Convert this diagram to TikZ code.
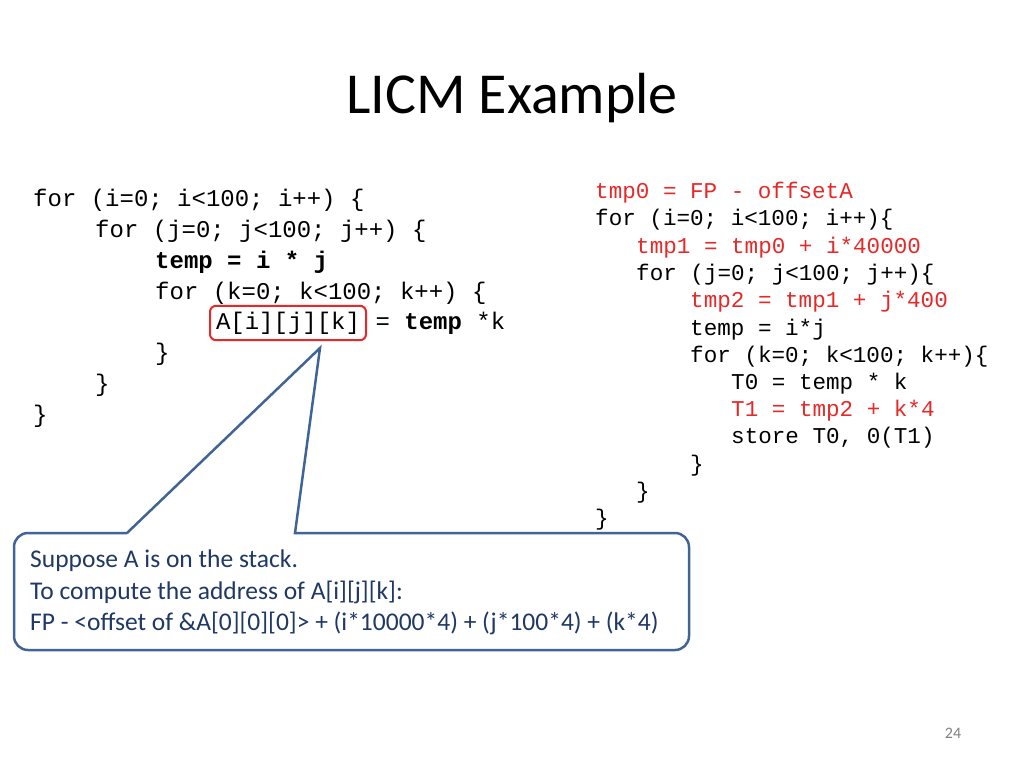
\documentclass[tikz,border=0pt]{standalone}
\usepackage{fontspec}
\setmainfont{Carlito}
\setmonofont{Liberation Mono}
\usepackage{tikz}
\definecolor{codered}{RGB}{230,40,40}
\definecolor{callblue}{RGB}{65,100,150}
\definecolor{calltext}{RGB}{31,56,100}
\tikzset{
	lcode/.style={anchor=west, inner sep=0pt, font=\fontsize{24}{24}\selectfont\ttfamily},
	rcode/.style={anchor=west, inner sep=0pt, font=\fontsize{22.6}{22.6}\selectfont\ttfamily},
	callout/.style={draw=callblue, line width=2.5pt, fill=white},
	note/.style={anchor=west, inner sep=0pt, text=calltext, font=\fontsize{25.5}{25.5}\selectfont}
}
\begin{document}
\begin{tikzpicture}[x=1pt, y=-1pt]
\useasboundingbox (0,0) rectangle (1024,768);

\node[font=\fontsize{58}{58}\selectfont] (title) at (512,98) {LICM Example};

% left loop nest
\node[lcode] (l1) at (33,200) {for (i=0; i<100; i++) \{};
\node[lcode] (l2) at (95,231) {for (j=0; j<100; j++) \{};
\node[lcode] (l3) at (155,262) {\textbf{temp = i * j}};
\node[lcode] (l4) at (155,293) {for (k=0; k<100; k++) \{};
\node[lcode, draw=codered, line width=2pt, rounded corners=6pt, inner xsep=6pt, inner ysep=6pt] (acc) at (209,323) {A[i][j][k]};
\node[lcode] (l5) at ([xshift=-6pt]acc.east) {\ = \textbf{temp} *k};
\node[lcode] (l6) at (155,354) {\}};
\node[lcode] (l7) at (95,385) {\}};
\node[lcode] (l8) at (33,416) {\}};

% right, after hoisting
\node[rcode, text=codered] (r1) at (595,193) {tmp0 = FP - offsetA};
\node[rcode] (r2) at (595,220) {for (i=0; i<100; i++)\{};
\node[rcode, text=codered] (r3) at (636,248) {tmp1 = tmp0 + i*40000};
\node[rcode] (r4) at (636,275) {for (j=0; j<100; j++)\{};
\node[rcode, text=codered] (r5) at (690,302) {tmp2 = tmp1 + j*400};
\node[rcode] (r6) at (690,330) {temp = i*j};
\node[rcode] (r7) at (690,357) {for (k=0; k<100; k++)\{};
\node[rcode] (r8) at (731,384) {T0 = temp * k};
\node[rcode, text=codered] (r9) at (731,411) {T1 = tmp2 + k*4};
\node[rcode] (r10) at (731,438) {store T0, 0(T1)};
\node[rcode] (r11) at (690,466) {\}};
\node[rcode] (r12) at (636,493) {\}};
\node[rcode] (r13) at (595,520) {\}};

% callout
\coordinate (tip) at (320,348);
\draw[callout] (127,533) -- (tip) -- (295,533) [rounded corners=14pt] -- (689,533) -- (689,650) -- (14,650) -- (14,533) -- (127,533);
\node[note] (n1) at (30,561) {Suppose A is on the stack.};
\node[note] (n2) at (30,592) {To compute the address of A[i][j][k]:};
\node[note] (n3) at (30,623) {FP - <offset of \&A[0][0][0]> + (i*10000*4) + (j*100*4) + (k*4)};

\node[text=gray, font=\fontsize{16}{16}\selectfont] (page) at (953,733) {24};
\end{tikzpicture}
\end{document}
